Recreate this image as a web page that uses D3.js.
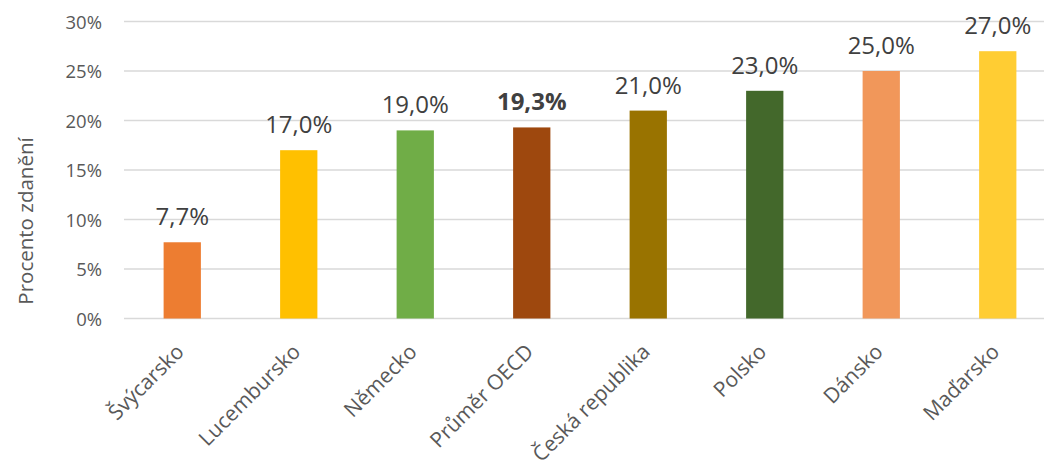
<!DOCTYPE html>
<html>
<head>
<meta charset="utf-8">
<script src="https://cdn.jsdelivr.net/npm/d3@7"></script>
<style>
  body { margin: 0; background: #fff; }
  svg text { font-family: "Open Sans", sans-serif; }
</style>
</head>
<body>
<div id="chart"></div>
<script>
// data
var countries = ["Švýcarsko", "Lucembursko", "Německo", "Průměr OECD", "Česká republika", "Polsko", "Dánsko", "Maďarsko"];
var rates = [7.7, 17.0, 19.0, 19.3, 21.0, 23.0, 25.0, 27.0];
var barColors = ["#ED7D31", "#FFC000", "#70AD47", "#9E480E", "#997300", "#43682B", "#F1975A", "#FFCD33"];
var yTicks = [0, 5, 10, 15, 20, 25, 30];
var highlight = "Průměr OECD";

var width = 1044, height = 470;

var svg = d3.select("#chart")
  .append("svg")
    .attr("width", width)
    .attr("height", height);

// scales
var x = d3.scaleBand()
  .domain(countries)
  .range([124, 1056])
  .paddingInner(0.68)
  .paddingOuter(0.34);

var y = d3.scaleLinear()
  .domain([0, 30])
  .range([318.5, 21.5]);

// gridlines
svg.append("g")
  .selectAll("line")
  .data(yTicks)
  .enter()
  .append("line")
    .attr("x1", 124)
    .attr("x2", width)
    .attr("y1", function(d){ return y(d) })
    .attr("y2", function(d){ return y(d) })
    .attr("stroke", "#d9d9d9")
    .attr("stroke-width", 1.5);

// y axis labels
var yAxis = d3.axisLeft(y)
  .tickValues(yTicks)
  .tickSize(0)
  .tickPadding(0)
  .tickFormat(function(d){ return d + "%" });

var gy = svg.append("g")
  .attr("transform", "translate(102,0)")
  .call(yAxis);
gy.select(".domain").remove();
gy.selectAll("text")
  .attr("font-family", "Open Sans, sans-serif")
  .attr("font-size", 18.5)
  .attr("fill", "#595959")
  .attr("dy", "0.36em");

// y title
svg.append("text")
  .attr("transform", "translate(33,221) rotate(-90)")
  .attr("text-anchor", "middle")
  .attr("font-size", 20.5)
  .attr("fill", "#595959")
  .text("Procento zdanění");

// bars
svg.append("g")
  .selectAll("rect")
  .data(countries)
  .enter()
  .append("rect")
    .attr("x", function(d){ return x(d) })
    .attr("width", x.bandwidth())
    .attr("y", function(d, i){ return y(rates[i]) })
    .attr("height", function(d, i){ return y(0) - y(rates[i]) })
    .attr("fill", function(d, i){ return barColors[i] });

// value labels
svg.append("g")
  .selectAll("text")
  .data(countries)
  .enter()
  .append("text")
    .attr("x", function(d){ return x(d) + x.bandwidth() / 2 })
    .attr("y", function(d, i){ return y(rates[i]) - 17 })
    .attr("text-anchor", "middle")
    .attr("font-size", 24)
    .attr("font-weight", function(d){ return d == highlight ? "bold" : "normal" })
    .attr("fill", "#404040")
    .text(function(d, i){ return rates[i].toFixed(1).replace(".", ",") + "%" });

// category labels
svg.append("g")
  .selectAll("text")
  .data(countries)
  .enter()
  .append("text")
    .attr("transform", function(d){
      return "translate(" + (x(d) + x.bandwidth() / 2 + 3) + ",353) rotate(-45)";
    })
    .attr("text-anchor", "end")
    .attr("font-size", 21)
    .attr("fill", "#595959")
    .text(function(d){ return d });
</script>
</body>
</html>
